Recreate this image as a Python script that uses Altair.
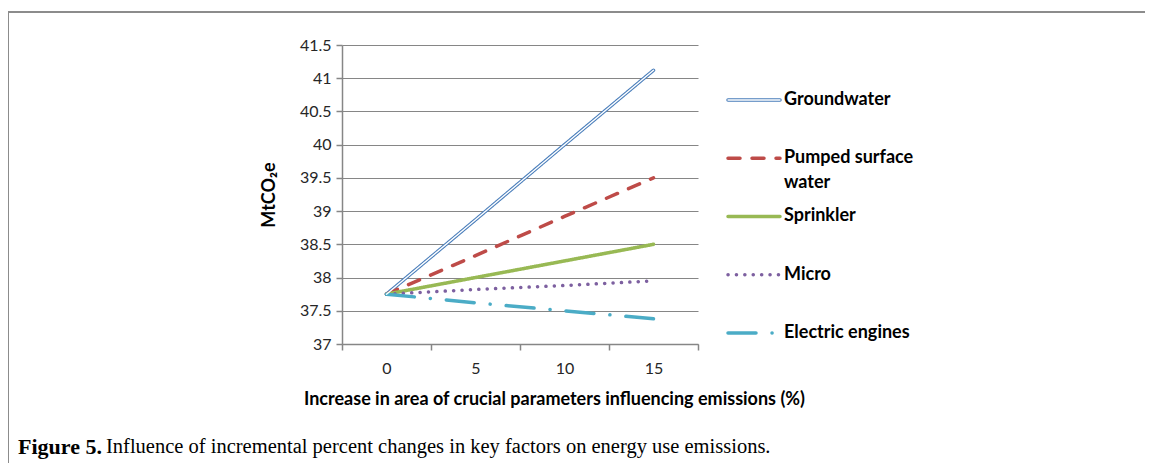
import altair as alt
import pandas as pd

# ---- data ----
x_values = [0, 5, 10, 15]
series_names = ["Groundwater", "Pumped surface water", "Sprinkler", "Micro", "Electric engines"]
groundwater = [37.75, 38.87, 40.0, 41.12]
pumped_surface_water = [37.75, 38.33, 38.92, 39.5]
sprinkler = [37.75, 38.0, 38.25, 38.5]
micro = [37.75, 37.82, 37.88, 37.95]
electric_engines = [37.75, 37.62, 37.5, 37.38]
legend_labels = ["Groundwater", "Pumped surface|water", "Sprinkler", "Micro", "Electric engines"]
y_ticks = [37, 37.5, 38, 38.5, 39, 39.5, 40, 40.5, 41, 41.5]
caption_bold = ["Figure 5."]
caption_rest = ["Influence of incremental percent changes in key factors on energy use emissions."]

# ---- styles ----
colors = ["#4a7ebb", "#be4b48", "#98b954", "#7d60a0", "#4bacc6"]
dashes = [[1, 0], [12, 12], [1, 0], [0.1, 8.3], [28, 16, 0.1, 16]]
FONT = "Lato"

all_values = [groundwater, pumped_surface_water, sprinkler, micro, electric_engines]
rows = []
for name, vals in zip(series_names, all_values):
    for xv, yv in zip(x_values, vals):
        rows.append({"series": name, "x": xv, "y": yv})
df = pd.DataFrame(rows)
legend_df = pd.DataFrame({"series": series_names, "label": legend_labels})

color_enc = alt.Color("series:N", scale=alt.Scale(domain=series_names, range=colors), legend=None)
dash_enc = alt.StrokeDash("series:N", scale=alt.Scale(domain=series_names, range=dashes), legend=None)

x_enc = alt.X(
    "x:O",
    bandPosition=0.5,
    scale=alt.Scale(type="band", paddingInner=0, paddingOuter=0),
    axis=alt.Axis(
        title="Increase in area of crucial parameters influencing emissions (%)",
        tickBand="extent",
        labelAngle=0,
        grid=False,
        tickSize=6,
        labelPadding=10,
        titlePadding=14,
        titleX=212,
    ),
)
y_enc = alt.Y(
    "y:Q",
    scale=alt.Scale(domain=[37, 41.5], nice=False, zero=False),
    axis=alt.Axis(
        title="MtCO₂e",
        values=y_ticks,
        format="~g",
        grid=True,
        tickSize=6,
        labelPadding=5,
        labelOverlap=False,
        titlePadding=21,
    ),
)

lines = alt.Chart(df).mark_line(strokeWidth=3.5, strokeCap="round", strokeJoin="round").encode(
    x=x_enc, y=y_enc, color=color_enc, strokeDash=dash_enc, detail="series:N"
)
gw_inner = (
    alt.Chart(df)
    .transform_filter(alt.datum.series == "Groundwater")
    .mark_line(strokeWidth=1.4, color="white", strokeCap="round")
    .encode(x=x_enc, y=y_enc)
)
main = alt.layer(lines, gw_inner)

leg_y = alt.Y(
    "series:N",
    scale=alt.Scale(type="point", domain=series_names, padding=0.567, align=0.833),
    axis=None,
)
leg_rules = alt.Chart(legend_df).mark_rule(strokeWidth=3.5, strokeCap="round").encode(
    x=alt.value(386), x2=alt.value(438), y=leg_y, color=color_enc, strokeDash=dash_enc
)
leg_gw = (
    alt.Chart(legend_df)
    .transform_filter(alt.datum.series == "Groundwater")
    .mark_rule(strokeWidth=1.4, color="white", strokeCap="round")
    .encode(x=alt.value(386), x2=alt.value(438), y=leg_y)
)
leg_text = alt.Chart(legend_df).mark_text(
    align="left", baseline="top", dy=-9, lineBreak="|", font=FONT, fontSize=18,
    fontWeight="bold", lineHeight=25, color="black"
).encode(x=alt.value(442), y=leg_y, text="label:N")
legend = alt.layer(leg_rules, leg_gw, leg_text)

frame = alt.Chart(pd.DataFrame({"k": [1]})).mark_rect(
    fillOpacity=0, stroke="#8c8c8c", strokeWidth=2
).encode(x=alt.value(-334), x2=alt.value(900), y=alt.value(-33), y2=alt.value(500))

cap1 = alt.Chart(pd.DataFrame({"t": caption_bold})).mark_text(
    align="left", baseline="middle", font="Liberation Serif", fontSize=22, fontWeight="bold", color="black"
).encode(x=alt.value(-324), y=alt.value(402), text="t:N")
cap2 = alt.Chart(pd.DataFrame({"t": caption_rest})).mark_text(
    align="left", baseline="middle", font="Liberation Serif", fontSize=20.5, color="black"
).encode(x=alt.value(-236), y=alt.value(402), text="t:N")

chart = (
    alt.layer(frame, main, legend, cap1, cap2)
    .resolve_scale(y="independent")
    .properties(
        width=356,
        height=299,
        autosize=alt.AutoSizeParams(type="none"),
        padding={"left": 334, "top": 37, "right": 447, "bottom": 119},
    )
    .configure_view(strokeWidth=0)
    .configure_axis(
        domainColor="#868686",
        domainWidth=1.5,
        gridColor="#868686",
        gridWidth=1,
        tickColor="#868686",
        tickWidth=1.5,
        labelColor="#262626",
        labelFont=FONT,
        labelFontSize=16,
        titleFont=FONT,
        titleFontSize=18,
        titleFontWeight="bold",
        titleColor="black",
    )
)

chart.save("out.html", embed_options={"renderer": "svg", "actions": False})
